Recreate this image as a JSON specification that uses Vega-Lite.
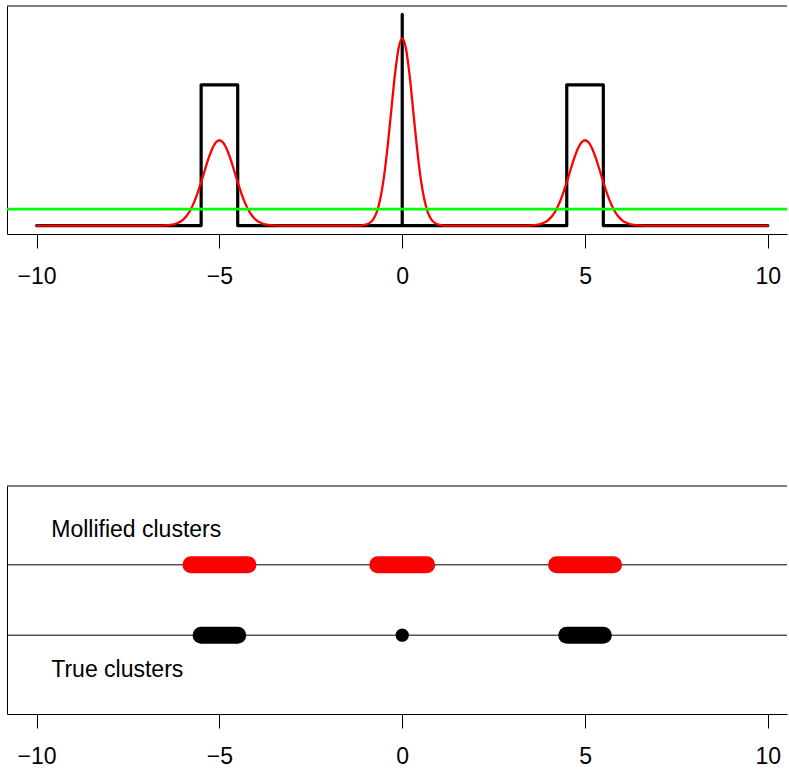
{
  "$schema": "https://vega.github.io/schema/vega-lite/v6.json",
  "background": "white",
  "padding": {"left": 5, "top": 5, "right": 0, "bottom": 0},
  "config": {
    "view": {"stroke": null},
    "font": "Liberation Sans",
    "axis": {
      "grid": false,
      "title": null,
      "domainColor": "black",
      "domainWidth": 1,
      "tickColor": "black",
      "tickWidth": 1,
      "tickSize": 14,
      "labelFont": "Liberation Sans",
      "labelFontSize": 23,
      "labelColor": "black",
      "labelPadding": 17,
      "labelFlush": false,
      "labelOverlap": false
    }
  },
  "datasets": {
    "truth": [
      {"step": 1, "x": -10, "y": 0},
      {"step": 2, "x": -5.5, "y": 0},
      {"step": 3, "x": -5.5, "y": 1},
      {"step": 4, "x": -4.5, "y": 1},
      {"step": 5, "x": -4.5, "y": 0},
      {"step": 6, "x": 0, "y": 0},
      {"step": 7, "x": 0, "y": 1.5},
      {"step": 8, "x": 0, "y": 0},
      {"step": 9, "x": 4.5, "y": 0},
      {"step": 10, "x": 4.5, "y": 1},
      {"step": 11, "x": 5.5, "y": 1},
      {"step": 12, "x": 5.5, "y": 0},
      {"step": 13, "x": 10, "y": 0}
    ],
    "mollified": [
      {"x": -10, "y": 0},
      {"x": -6.6, "y": 0},
      {"x": -6.5, "y": 0.001},
      {"x": -6.4, "y": 0.003},
      {"x": -6.3, "y": 0.006},
      {"x": -6.2, "y": 0.012},
      {"x": -6.1, "y": 0.023},
      {"x": -6.0, "y": 0.041},
      {"x": -5.9, "y": 0.068},
      {"x": -5.8, "y": 0.107},
      {"x": -5.7, "y": 0.161},
      {"x": -5.6, "y": 0.229},
      {"x": -5.5, "y": 0.308},
      {"x": -5.4, "y": 0.393},
      {"x": -5.3, "y": 0.475},
      {"x": -5.2, "y": 0.544},
      {"x": -5.1, "y": 0.590},
      {"x": -5.0, "y": 0.606},
      {"x": -4.9, "y": 0.590},
      {"x": -4.8, "y": 0.544},
      {"x": -4.7, "y": 0.475},
      {"x": -4.6, "y": 0.393},
      {"x": -4.5, "y": 0.308},
      {"x": -4.4, "y": 0.229},
      {"x": -4.3, "y": 0.161},
      {"x": -4.2, "y": 0.107},
      {"x": -4.1, "y": 0.068},
      {"x": -4.0, "y": 0.041},
      {"x": -3.9, "y": 0.023},
      {"x": -3.8, "y": 0.012},
      {"x": -3.7, "y": 0.006},
      {"x": -3.6, "y": 0.003},
      {"x": -3.5, "y": 0.001},
      {"x": -3.4, "y": 0},
      {"x": -1.2, "y": 0},
      {"x": -1.1, "y": 0.002},
      {"x": -1.0, "y": 0.006},
      {"x": -0.9, "y": 0.017},
      {"x": -0.8, "y": 0.042},
      {"x": -0.7, "y": 0.094},
      {"x": -0.6, "y": 0.190},
      {"x": -0.5, "y": 0.344},
      {"x": -0.4, "y": 0.560},
      {"x": -0.3, "y": 0.817},
      {"x": -0.2, "y": 1.071},
      {"x": -0.1, "y": 1.260},
      {"x": 0, "y": 1.330},
      {"x": 0.1, "y": 1.260},
      {"x": 0.2, "y": 1.071},
      {"x": 0.3, "y": 0.817},
      {"x": 0.4, "y": 0.560},
      {"x": 0.5, "y": 0.344},
      {"x": 0.6, "y": 0.190},
      {"x": 0.7, "y": 0.094},
      {"x": 0.8, "y": 0.042},
      {"x": 0.9, "y": 0.017},
      {"x": 1.0, "y": 0.006},
      {"x": 1.1, "y": 0.002},
      {"x": 1.2, "y": 0},
      {"x": 3.4, "y": 0},
      {"x": 3.5, "y": 0.001},
      {"x": 3.6, "y": 0.003},
      {"x": 3.7, "y": 0.006},
      {"x": 3.8, "y": 0.012},
      {"x": 3.9, "y": 0.023},
      {"x": 4.0, "y": 0.041},
      {"x": 4.1, "y": 0.068},
      {"x": 4.2, "y": 0.107},
      {"x": 4.3, "y": 0.161},
      {"x": 4.4, "y": 0.229},
      {"x": 4.5, "y": 0.308},
      {"x": 4.6, "y": 0.393},
      {"x": 4.7, "y": 0.475},
      {"x": 4.8, "y": 0.544},
      {"x": 4.9, "y": 0.590},
      {"x": 5.0, "y": 0.606},
      {"x": 5.1, "y": 0.590},
      {"x": 5.2, "y": 0.544},
      {"x": 5.3, "y": 0.475},
      {"x": 5.4, "y": 0.393},
      {"x": 5.5, "y": 0.308},
      {"x": 5.6, "y": 0.229},
      {"x": 5.7, "y": 0.161},
      {"x": 5.8, "y": 0.107},
      {"x": 5.9, "y": 0.068},
      {"x": 6.0, "y": 0.041},
      {"x": 6.1, "y": 0.023},
      {"x": 6.2, "y": 0.012},
      {"x": 6.3, "y": 0.006},
      {"x": 6.4, "y": 0.003},
      {"x": 6.5, "y": 0.001},
      {"x": 6.6, "y": 0},
      {"x": 10, "y": 0}
    ],
    "threshold": [{"level": 0.117}],
    "clusters": [
      {"kind": "Mollified", "level": 2, "lo": -5.78, "hi": -4.22},
      {"kind": "Mollified", "level": 2, "lo": -0.67, "hi": 0.67},
      {"kind": "Mollified", "level": 2, "lo": 4.22, "hi": 5.78},
      {"kind": "True", "level": 1, "lo": -5.5, "hi": -4.5},
      {"kind": "True", "level": 1, "lo": 0, "hi": 0},
      {"kind": "True", "level": 1, "lo": 4.5, "hi": 5.5}
    ],
    "tracks": [{"level": 1}, {"level": 2}],
    "labels": [
      {"x": -9.6, "level": 2.5, "label": "Mollified clusters"},
      {"x": -9.6, "level": 0.5, "label": "True clusters"}
    ]
  },
  "spacing": 252,
  "bounds": "flush",
  "vconcat": [
    {
      "width": 780,
      "height": 228,
      "layer": [
        {
          "data": {"name": "truth"},
          "mark": {"type": "line", "color": "black", "strokeWidth": 3.2, "strokeCap": "round", "strokeJoin": "round"},
          "encoding": {
            "x": {
              "field": "x", "type": "quantitative",
              "scale": {"domain": [-10.81, 10.524], "nice": false, "zero": false},
              "axis": {"values": [-10, -5, 0, 5, 10]}
            },
            "y": {
              "field": "y", "type": "quantitative",
              "scale": {"domain": [-0.06, 1.56], "nice": false, "zero": false},
              "axis": {"ticks": false, "labels": false}
            },
            "order": {"field": "step", "type": "quantitative"}
          }
        },
        {
          "data": {"name": "mollified"},
          "mark": {"type": "line", "color": "#FF0000", "strokeWidth": 2.3, "interpolate": "monotone", "strokeCap": "round"},
          "encoding": {
            "x": {"field": "x", "type": "quantitative"},
            "y": {"field": "y", "type": "quantitative"}
          }
        },
        {
          "data": {"name": "threshold"},
          "mark": {"type": "rule", "color": "#00FF00", "strokeWidth": 2.6},
          "encoding": {"y": {"field": "level", "type": "quantitative"}}
        },
        {
          "data": {"values": [{}]},
          "mark": {"type": "rule", "color": "black", "strokeWidth": 1},
          "encoding": {"y": {"datum": 1.56}}
        }
      ]
    },
    {
      "width": 780,
      "height": 228,
      "layer": [
        {
          "data": {"name": "tracks"},
          "mark": {"type": "rule", "color": "black", "strokeWidth": 1},
          "encoding": {
            "y": {
              "field": "level", "type": "quantitative",
              "scale": {"domain": [-0.12, 3.12], "nice": false, "zero": false},
              "axis": {"ticks": false, "labels": false}
            }
          }
        },
        {
          "data": {"name": "clusters"},
          "transform": [{"filter": "datum.lo < datum.hi"}],
          "mark": {"type": "rule", "strokeWidth": 17, "strokeCap": "round"},
          "encoding": {
            "x": {
              "field": "lo", "type": "quantitative",
              "scale": {"domain": [-10.81, 10.524], "nice": false, "zero": false},
              "axis": {"values": [-10, -5, 0, 5, 10]}
            },
            "x2": {"field": "hi"},
            "y": {"field": "level", "type": "quantitative"},
            "color": {
              "field": "kind", "type": "nominal",
              "scale": {"domain": ["Mollified", "True"], "range": ["#FF0000", "black"]},
              "legend": null
            }
          }
        },
        {
          "data": {"name": "clusters"},
          "transform": [{"filter": "datum.lo == datum.hi"}],
          "mark": {"type": "point", "shape": "circle", "filled": true, "opacity": 1, "color": "black", "size": 177},
          "encoding": {
            "x": {"field": "lo", "type": "quantitative"},
            "y": {"field": "level", "type": "quantitative"}
          }
        },
        {
          "data": {"name": "labels"},
          "mark": {"type": "text", "align": "left", "baseline": "middle", "fontSize": 23, "color": "black", "font": "Liberation Sans"},
          "encoding": {
            "x": {"field": "x", "type": "quantitative"},
            "y": {"field": "level", "type": "quantitative"},
            "text": {"field": "label"}
          }
        },
        {
          "data": {"values": [{}]},
          "mark": {"type": "rule", "color": "black", "strokeWidth": 1},
          "encoding": {"y": {"datum": 3.12}}
        }
      ]
    }
  ]
}
